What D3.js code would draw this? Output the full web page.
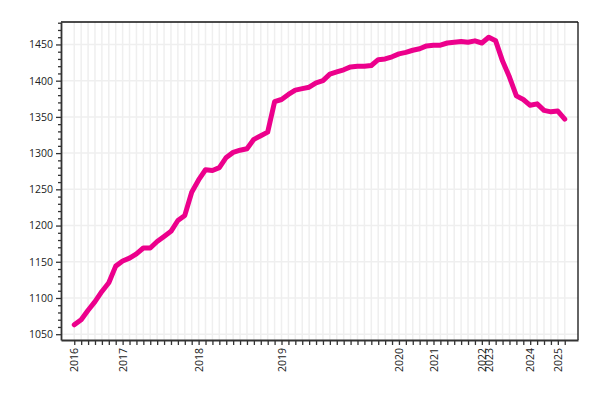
<!DOCTYPE html>
<html>
<head>
<meta charset="utf-8">
<script src="https://cdn.jsdelivr.net/npm/d3@7"></script>
<style>
  html, body { margin: 0; padding: 0; background: #fff; }
  svg { display: block; font-family: "Open Sans", "Noto Sans", sans-serif; }
</style>
</head>
<body>
<div id="chart"></div>
<script>
// ---- data ----
const values = [
  1063, 1070, 1083, 1095, 1109, 1121, 1144, 1151, 1155, 1161,
  1169, 1169, 1178, 1185, 1192, 1207, 1214, 1246, 1263, 1277,
  1276, 1280, 1294, 1301, 1304, 1306, 1319, 1324, 1329, 1371,
  1374, 1381, 1387, 1389, 1391, 1397, 1400, 1409, 1412, 1415,
  1419, 1420, 1420, 1421, 1429, 1430, 1433, 1437, 1439, 1442,
  1444, 1448, 1449, 1449, 1452, 1453, 1454, 1453, 1455, 1452,
  1460, 1455, 1427, 1405, 1379, 1374, 1366, 1368, 1359, 1357,
  1358, 1347
];
// year label shown at the first point of each year ("" = unlabeled tick)
const xLabels = values.map(() => "");
const yearTicks = ["2016","2017","2018","2019","2020","2021","2022","2023","2024","2025"];
const yearTickPoints = [0, 7, 18, 30, 47, 52, 59, 60, 66, 70];
yearTickPoints.forEach((p, k) => { xLabels[p] = yearTicks[k]; });
const yMajorTicks = [1050, 1100, 1150, 1200, 1250, 1300, 1350, 1400, 1450];
const yDomain = [1042, 1481];

// ---- layout ----
const W = 600, H = 400;
const margin = { top: 22, right: 22, bottom: 60, left: 61 };
const iw = W - margin.left - margin.right;
const ih = H - margin.top - margin.bottom;

const svg = d3.select("#chart").append("svg").attr("width", W).attr("height", H);
const g = svg.append("g").attr("transform", `translate(${margin.left},${margin.top})`);

const idx = d3.range(values.length);
const x = d3.scalePoint().domain(idx).range([0, iw]).padding(1.92);
const y = d3.scaleLinear().domain(yDomain).range([ih, 0]);

// grid
g.append("g").selectAll("line.v").data(idx).join("line")
  .attr("x1", d => x(d)).attr("x2", d => x(d))
  .attr("y1", 0).attr("y2", ih)
  .attr("stroke", "#efefef").attr("stroke-width", 1.5);
g.append("g").selectAll("line.h").data(yMajorTicks).join("line")
  .attr("x1", 0).attr("x2", iw)
  .attr("y1", d => y(d)).attr("y2", d => y(d))
  .attr("stroke", "#efefef").attr("stroke-width", 1.5);

// frame top/right
g.append("line").attr("x1", 0).attr("x2", iw).attr("y1", 0).attr("y2", 0)
  .attr("stroke", "#111").attr("stroke-width", 1.3);
g.append("line").attr("x1", iw).attr("x2", iw).attr("y1", 0).attr("y2", ih)
  .attr("stroke", "#111").attr("stroke-width", 1.3);

// line
const line = d3.line().x((d, i) => x(i)).y(d => y(d));
g.append("path").datum(values)
  .attr("fill", "none")
  .attr("stroke", "#ec008c")
  .attr("stroke-width", 5)
  .attr("stroke-linejoin", "round")
  .attr("stroke-linecap", "round")
  .attr("d", line);

// y axis: minor ticks then major
const minorTicks = d3.range(1050, 1481, 10).filter(v => v % 50 !== 0);
const yMinor = g.append("g")
  .call(d3.axisLeft(y).tickValues(minorTicks).tickSize(3).tickFormat(""));
yMinor.select(".domain").remove();
yMinor.selectAll(".tick line").attr("stroke", "#333").attr("stroke-width", 1.3);

const yAxis = g.append("g")
  .call(d3.axisLeft(y).tickValues(yMajorTicks).tickSize(5).tickPadding(3)
    .tickSizeOuter(0).tickFormat(d3.format("d")));
yAxis.select(".domain").attr("stroke", "#333").attr("stroke-width", 1.8);
yAxis.selectAll(".tick line").attr("stroke", "#333").attr("stroke-width", 1.3);
yAxis.selectAll(".tick text").attr("font-size", 10.5).attr("fill", "#222")
  .attr("font-family", "'Open Sans', sans-serif");

// x axis
const xAxis = g.append("g").attr("transform", `translate(0,${ih})`)
  .call(d3.axisBottom(x).tickSize(5).tickSizeOuter(0).tickFormat(i => xLabels[i]));
xAxis.select(".domain").attr("stroke", "#333").attr("stroke-width", 1.8);
xAxis.selectAll(".tick line").attr("stroke", "#333").attr("stroke-width", 1.3);
xAxis.selectAll(".tick text")
  .attr("font-size", 10.5).attr("fill", "#222")
  .attr("font-family", "'Open Sans', sans-serif")
  .attr("transform", "rotate(-90)")
  .attr("text-anchor", "end")
  .attr("x", -8).attr("y", 0).attr("dy", "0.35em");
</script>
</body>
</html>
